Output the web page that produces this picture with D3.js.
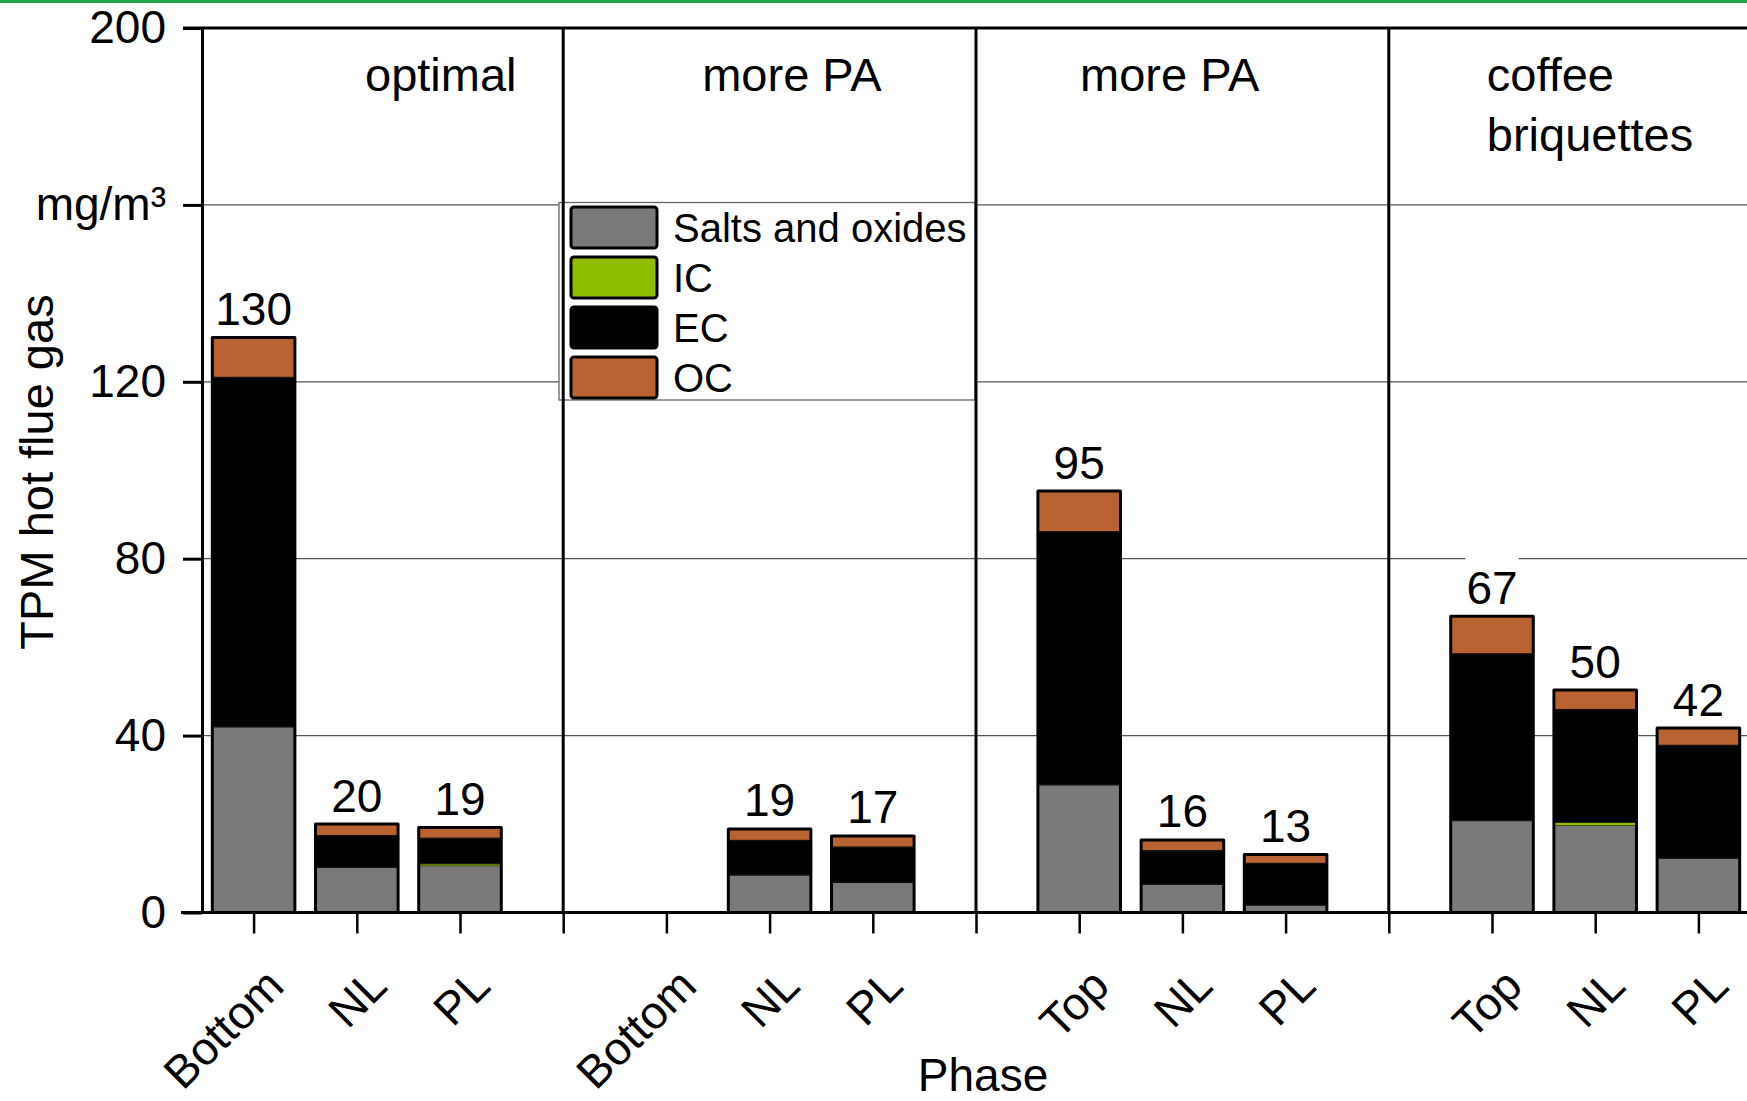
<!DOCTYPE html>
<html>
<head>
<meta charset="utf-8">
<script src="https://cdn.jsdelivr.net/npm/d3@7"></script>
<style>
  html, body { margin: 0; padding: 0; background: #fff; }
  svg { display: block; font-family: "Liberation Sans", Arial, sans-serif; }
</style>
</head>
<body>
<svg id="chart" width="1747" height="1101"></svg>
<script>
// ---- data -------------------------------------------------------------
const panelNames = [["optimal"], ["more PA"], ["more PA"], ["coffee", "briquettes"]];
const phaseLabels = ["Bottom", "NL", "PL", "Bottom", "NL", "PL", "Top", "NL", "PL", "Top", "NL", "PL"];
const seriesNames = ["Salts and oxides", "IC", "EC", "OC"];
// mg/m³ per bar, null = not measured
const saltsOxides = [42, 10.2, 10.6, null, 8.5, 6.8, 28.9, 6.4, 1.7, 20.8, 19.7, 12.3];
const icValues    = [0, 0, 0.4, null, 0, 0, 0, 0, 0, 0, 0.7, 0];
const ecValues    = [79, 7.2, 5.8, null, 7.8, 8.0, 57.2, 7.6, 9.4, 37.7, 25.5, 25.5];
const ocValues    = [9, 2.6, 2.4, null, 2.6, 2.5, 9.2, 2.4, 2.0, 8.5, 4.4, 3.9];
const yTickValues = [0, 40, 80, 120, 160, 200];
const yTickLabels = ["0", "40", "80", "120", "mg/m³", "200"];

// ---- layout -----------------------------------------------------------
const W = 1747, H = 1101;
const plotLeft = 202, plotRight = 1750, plotTop = 28, plotBottom = 912.5;
const colors = { "Salts and oxides": "#7a7a7a", "IC": "#8fbe00", "EC": "#000000", "OC": "#b96332" };

const svg = d3.select("#chart");

// decorative rule along the top edge
svg.append("rect").attr("x", 0).attr("y", 0).attr("width", W).attr("height", 3).attr("fill", "#1fa24b");

// one slot per phase plus a spacer slot between condition groups
const slots = [];
phaseLabels.forEach((p, i) => {
  slots.push({ key: "b" + i, label: p, bar: i });
  if (i % 3 === 2 && i < phaseLabels.length - 1) slots.push({ key: "gap" + i, label: "", bar: null, gap: true });
});

const x = d3.scalePoint().domain(slots.map(s => s.key)).range([plotLeft, plotRight]).padding(0.5);
const step = x.step();
const barW = step * 0.8;
const y = d3.scaleLinear().domain([0, 200]).range([plotBottom, plotTop]);

// gridlines
const grid = svg.append("g");
grid.selectAll("line").data(yTickValues.filter(v => v > 0 && v < 200)).join("line")
  .attr("x1", plotLeft).attr("x2", plotRight)
  .attr("y1", d => y(d)).attr("y2", d => y(d))
  .attr("stroke", "#555").attr("stroke-width", 1.2);

// legend frame (drawn before bars/separators)
const legX = 559, legY = 202.5, legW = 416, legH = 197.5;
svg.append("rect").attr("x", legX).attr("y", legY).attr("width", legW).attr("height", legH)
  .attr("fill", "#fff").attr("stroke", "#666").attr("stroke-width", 1.3);

// stacked bars
const seriesValues = [saltsOxides, icValues, ecValues, ocValues];
const bars = slots.filter(s => s.bar !== null && saltsOxides[s.bar] !== null).map(s => {
  const vals = seriesValues.map(a => a[s.bar]);
  let acc = 0;
  const segs = vals.map((v, k) => { const seg = { name: seriesNames[k], y0: acc, y1: acc + v }; acc += v; return seg; });
  return { key: s.key, segs, total: acc };
});

const barG = svg.append("g").selectAll("g").data(bars).join("g")
  .attr("transform", d => `translate(${x(d.key) - barW / 2},0)`);

barG.selectAll("rect.seg").data(d => d.segs.filter(s => s.y1 > s.y0)).join("rect")
  .attr("class", "seg")
  .attr("x", 0).attr("width", barW)
  .attr("y", s => y(s.y1)).attr("height", s => y(s.y0) - y(s.y1))
  .attr("fill", s => colors[s.name])
  .attr("stroke", s => (y(s.y0) - y(s.y1)) > 4 ? "#111" : "none")
  .attr("stroke-width", 1.2);

barG.append("rect")
  .attr("x", 0).attr("width", barW)
  .attr("y", d => y(d.total)).attr("height", d => y(0) - y(d.total))
  .attr("fill", "none").attr("stroke", "#000").attr("stroke-width", 3)
  .attr("stroke-linejoin", "round");

// total labels with white backing
const fmt = d3.format(".0f");
const lab = svg.append("g").selectAll("g").data(bars).join("g")
  .attr("transform", d => `translate(${x(d.key)},${y(d.total) - 12.5})`);
lab.append("text")
  .attr("text-anchor", "middle").attr("font-size", 46).attr("fill", "#000")
  .text(d => fmt(d.total))
  .each(function () {
    const bb = this.getBBox();
    d3.select(this.parentNode).insert("rect", "text")
      .attr("x", bb.x - 1).attr("width", bb.width + 2)
      .attr("y", -46).attr("height", 50).attr("fill", "#fff");
  });

// group separators
svg.append("g").selectAll("line").data(slots.filter(s => s.gap)).join("line")
  .attr("x1", d => x(d.key)).attr("x2", d => x(d.key))
  .attr("y1", plotTop).attr("y2", plotBottom)
  .attr("stroke", "#000").attr("stroke-width", 3);

// top frame line
svg.append("line").attr("x1", plotLeft - 19).attr("x2", plotRight).attr("y1", plotTop).attr("y2", plotTop)
  .attr("stroke", "#000").attr("stroke-width", 3);

// y axis
const yAxis = d3.axisLeft(y).tickValues(yTickValues)
  .tickFormat((d, i) => yTickLabels[i]).tickSize(19).tickPadding(17).tickSizeOuter(0);
const yg = svg.append("g").attr("transform", `translate(${plotLeft},0)`).call(yAxis);
yg.select(".domain").attr("stroke-width", 3);
yg.selectAll(".tick line").attr("stroke-width", 3);
yg.selectAll(".tick text").attr("font-size", 46).attr("font-family", "Liberation Sans, Arial, sans-serif").attr("fill", "#000");

// x axis
const xAxis = d3.axisBottom(x).tickSize(21).tickSizeOuter(0).tickFormat(k => slots.find(s => s.key === k).label);
const xg = svg.append("g").attr("transform", `translate(0,${plotBottom})`).call(xAxis);
xg.select(".domain").attr("d", `M${plotLeft - 21},0H${plotRight}`).attr("stroke-width", 3);
xg.selectAll(".tick line").attr("stroke-width", 2.5);
xg.selectAll(".tick text")
  .attr("font-size", 46).attr("font-family", "Liberation Sans, Arial, sans-serif").attr("fill", "#000")
  .attr("text-anchor", "end").attr("y", null).attr("dy", null)
  .attr("transform", "translate(32,76) rotate(-45)");

// axis titles
svg.append("text").attr("transform", "translate(53,472) rotate(-90)")
  .attr("text-anchor", "middle").attr("font-size", 47).text("TPM hot flue gas");
svg.append("text").attr("x", 983).attr("y", 1091).attr("text-anchor", "middle")
  .attr("font-size", 46).text("Phase");

// condition labels per group
const groupStarts = [plotLeft].concat(slots.filter(s => s.gap).map(s => x(s.key)));
const nameOffsets = [163, 139, 104, 98];
panelNames.forEach((lines, i) => {
  const t = svg.append("text").attr("font-size", 47).attr("x", groupStarts[i] + nameOffsets[i]).attr("y", 91);
  lines.forEach((ln, j) => t.append("tspan").attr("x", groupStarts[i] + nameOffsets[i]).attr("dy", j === 0 ? 0 : 60).text(ln));
});

// legend entries
const leg = svg.append("g").selectAll("g").data(seriesNames).join("g")
  .attr("transform", (d, i) => `translate(${legX + 12},${legY + 4.5 + i * 50})`);
leg.append("rect").attr("width", 86).attr("height", 41).attr("rx", 3)
  .attr("fill", d => colors[d]).attr("stroke", "#000").attr("stroke-width", 3);
leg.append("text").attr("x", 102).attr("y", 34.5).attr("font-size", 40).text(d => d);
</script>
</body>
</html>
